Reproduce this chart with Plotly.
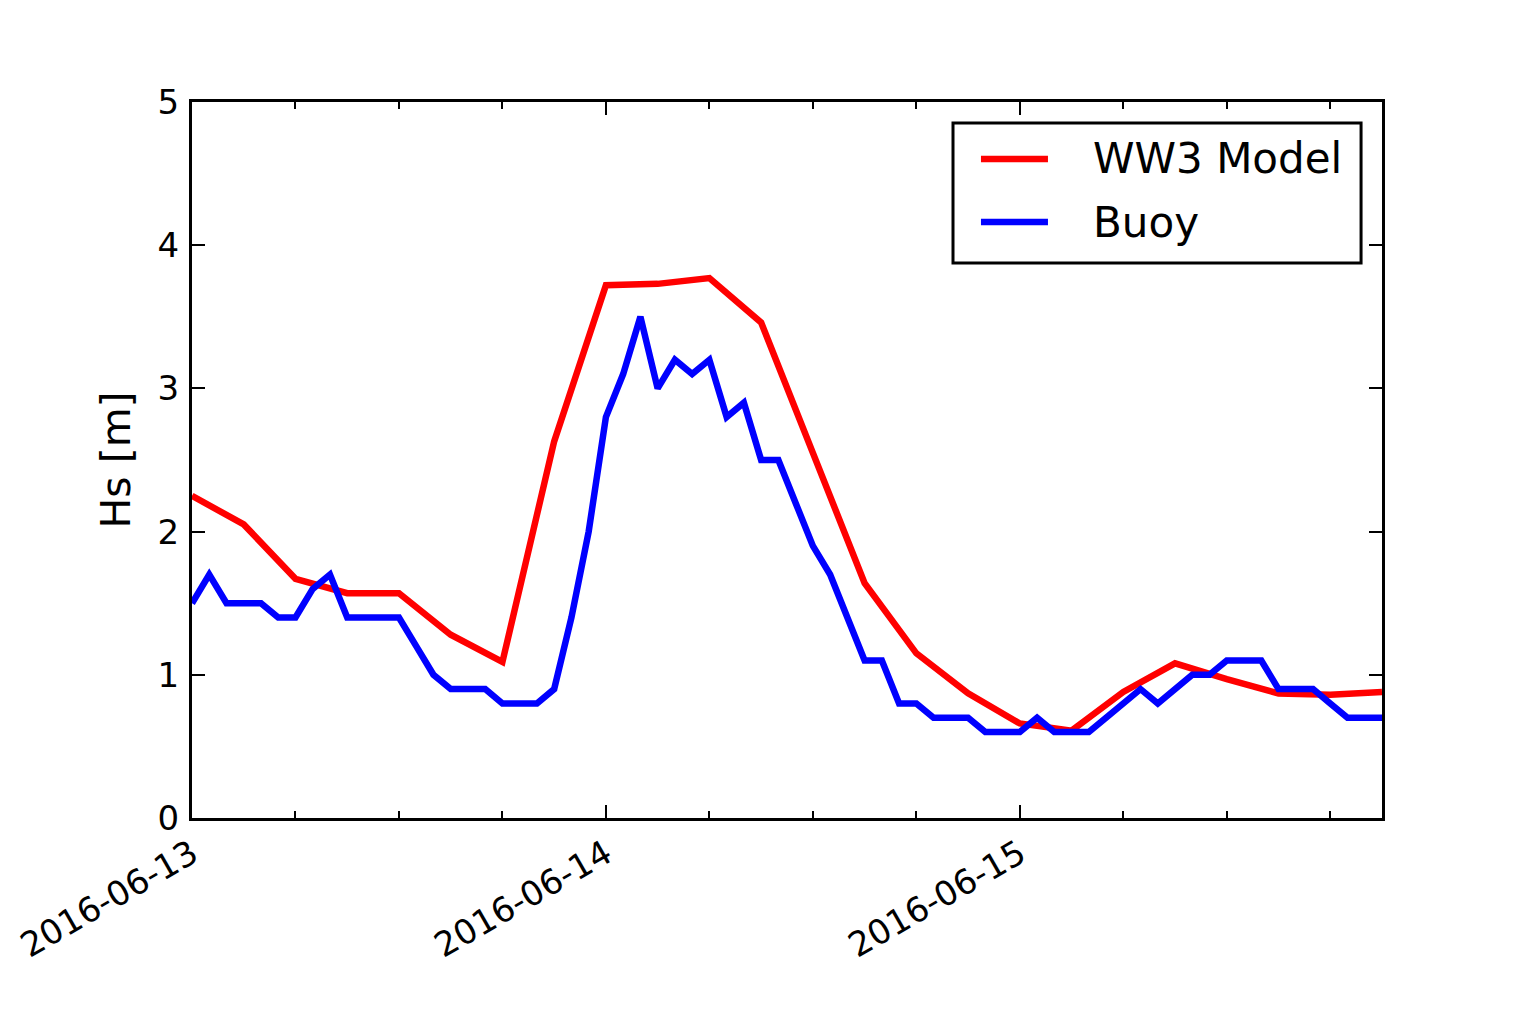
import plotly.graph_objects as go
import pandas as pd

start = pd.Timestamp("2016-06-13 00:00")

# WW3 model: 3-hourly values [m]
model_hours = list(range(0, 70, 3))
model_hs = [2.25, 2.05, 1.67, 1.57, 1.57, 1.28, 1.09, 2.63, 3.72, 3.73, 3.77, 3.46,
            2.55, 1.64, 1.15, 0.87, 0.66, 0.61, 0.88, 1.08, 0.97, 0.87, 0.86, 0.88]

# Buoy: hourly values [m]
buoy_hours = list(range(0, 70))
buoy_hs = [1.5, 1.7, 1.5, 1.5, 1.5, 1.4, 1.4, 1.6, 1.7, 1.4,
           1.4, 1.4, 1.4, 1.2, 1.0, 0.9, 0.9, 0.9, 0.8, 0.8,
           0.8, 0.9, 1.4, 2.0, 2.8, 3.1, 3.5, 3.0, 3.2, 3.1,
           3.2, 2.8, 2.9, 2.5, 2.5, 2.2, 1.9, 1.7, 1.4, 1.1,
           1.1, 0.8, 0.8, 0.7, 0.7, 0.7, 0.6, 0.6, 0.6, 0.7,
           0.6, 0.6, 0.6, 0.7, 0.8, 0.9, 0.8, 0.9, 1.0, 1.0,
           1.1, 1.1, 1.1, 0.9, 0.9, 0.9, 0.8, 0.7, 0.7, 0.7]

x_tick_dates = ["2016-06-13", "2016-06-14", "2016-06-15"]
y_ticks = [0, 1, 2, 3, 4, 5]
series_names = ["WW3 Model", "Buoy"]
series_colors = ["#ff0000", "#0000ff"]

model_t = [start + pd.Timedelta(hours=h) for h in model_hours]
buoy_t = [start + pd.Timedelta(hours=h) for h in buoy_hours]
x_end = start + pd.Timedelta(hours=69)

font = "DejaVu Sans"
lw = 6.5

fig = go.Figure()
fig.add_trace(go.Scatter(x=model_t, y=model_hs, mode="lines", name=series_names[0],
                         showlegend=False,
                         line=dict(color=series_colors[0], width=lw)))
fig.add_trace(go.Scatter(x=buoy_t, y=buoy_hs, mode="lines", name=series_names[1],
                         showlegend=False,
                         line=dict(color=series_colors[1], width=lw)))

# Legend box (matplotlib-style), in paper coordinates
shapes = [dict(type="rect", xref="paper", yref="paper",
               x0=0.6395, x1=0.9824, y0=0.7751, y1=0.9707,
               line=dict(color="black", width=3), fillcolor="white", layer="above")]
annotations = []
row_y = [0.9204, 0.8324]
for name, color, yy in zip(series_names, series_colors, row_y):
    shapes.append(dict(type="line", xref="paper", yref="paper",
                       x0=0.6630, x1=0.7193, y0=yy, y1=yy,
                       line=dict(color=color, width=lw), layer="above"))
    annotations.append(dict(xref="paper", yref="paper", x=0.7555, y=yy,
                            xanchor="left", yanchor="middle", showarrow=False,
                            text=name, font=dict(family=font, size=42, color="black")))

fig.update_layout(
    width=1536, height=1024,
    margin=dict(l=184, r=162, t=94, b=214),
    paper_bgcolor="white", plot_bgcolor="white",
    font=dict(family=font, color="black", size=34),
    showlegend=False,
    shapes=shapes,
    annotations=annotations,
)

fig.update_xaxes(
    range=[start, x_end],
    tickmode="array",
    tickvals=[pd.Timestamp(d) for d in x_tick_dates],
    ticktext=x_tick_dates,
    tickangle=-30,
    ticks="inside", ticklen=13, tickwidth=2, tickcolor="black",
    minor=dict(ticks="inside", ticklen=7, tickwidth=2, tickcolor="black",
               dtick=6 * 3600 * 1000, tick0="2016-06-13"),
    showline=True, linecolor="black", linewidth=3, mirror="allticks",
    showgrid=False, zeroline=False, automargin=False,
    tickfont=dict(family=font, size=34, color="black"),
)
fig.update_yaxes(
    range=[0, 5],
    tickmode="array", tickvals=y_ticks,
    ticks="inside", ticklen=13, tickwidth=2, tickcolor="black",
    showline=True, linecolor="black", linewidth=3, mirror="allticks",
    showgrid=False, zeroline=False, automargin=False,
    tickfont=dict(family=font, size=34, color="black"),
    title=dict(text="Hs [m]", font=dict(family=font, size=41, color="black"), standoff=15),
    ticklabelstandoff=3,
)

fig.write_html("out.html")
